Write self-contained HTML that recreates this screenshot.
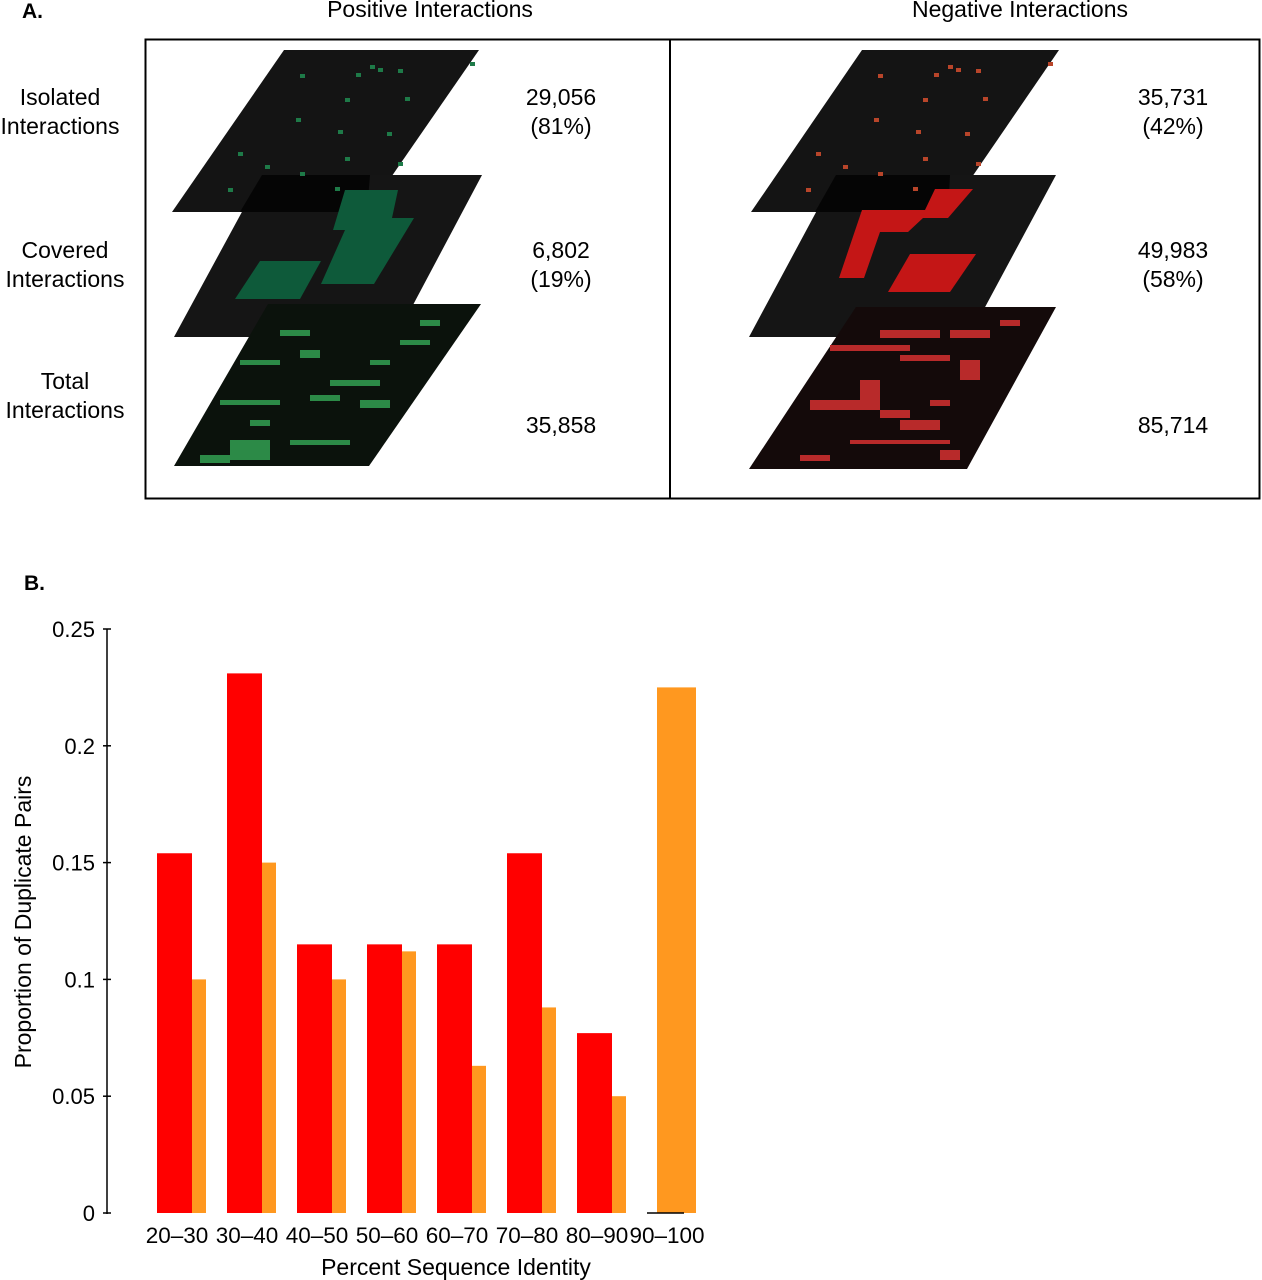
<!DOCTYPE html>
<html><head><meta charset="utf-8"><style>
body{margin:0;background:#fff;font-family:"Liberation Sans",sans-serif;}
svg{display:block}
text{font-family:"Liberation Sans",sans-serif;fill:#000}
</style></head><body>
<svg width="1262" height="1280" viewBox="0 0 1262 1280">
<g>
<text x="22" y="18" font-size="21" font-weight="bold">A.</text>
<text x="430" y="17" font-size="23" text-anchor="middle">Positive Interactions</text>
<text x="1020" y="17" font-size="23" text-anchor="middle">Negative Interactions</text>
<rect x="145.5" y="39.5" width="1114" height="459" fill="none" stroke="#000" stroke-width="2"/>
<line x1="670" y1="39" x2="670" y2="498" stroke="#000" stroke-width="2"/>
<g font-size="23" text-anchor="middle">
<text x="60" y="105">Isolated</text>
<text x="60" y="134">Interactions</text>
<text x="65" y="258">Covered</text>
<text x="65" y="287">Interactions</text>
<text x="65" y="389">Total</text>
<text x="65" y="418">Interactions</text>
<text x="561" y="105">29,056</text>
<text x="561" y="134">(81%)</text>
<text x="561" y="258">6,802</text>
<text x="561" y="287">(19%)</text>
<text x="561" y="433">35,858</text>
<text x="1173" y="105">35,731</text>
<text x="1173" y="134">(42%)</text>
<text x="1173" y="258">49,983</text>
<text x="1173" y="287">(58%)</text>
<text x="1173" y="433">85,714</text>
</g>
<g id="layersPos">
<polygon points="284,50 479,50 367,212 172,212" fill="#141414"/>
<polygon points="262,175 482,175 396,337 174,337" fill="#151515"/>
<polygon points="262,175 370,175 367,212 240,212" fill="#050505"/>
<polygon points="345,190 398,190 392,218 414,218 374,284 321,284 345,230 333,230" fill="#0e5a3a"/>
<polygon points="260,261 321,261 300,299 235,299" fill="#0e5a3a"/>
<polygon points="268,304 481,304 369,466 174,466" fill="#0b120c"/>
</g>
<g id="layersNeg">
<polygon points="862,50 1059,50 948,212 751,212" fill="#141414"/>
<polygon points="836,175 1056,175 969,337 749,337" fill="#151515"/>
<polygon points="836,175 950,175 948,212 815,212" fill="#050505"/>
<polygon points="935,189 973,189 948,218 923,218 908,232 880,232 864,278 839,278 862,210 925,210" fill="#c41616"/>
<polygon points="910,254 976,254 950,292 888,292" fill="#c41616"/>
<polygon points="856,307 1056,307 967,469 749,469" fill="#140a0a"/>
</g>
<g id="specks"></g>
</g>
<g>
<text x="24" y="590" font-size="21" font-weight="bold">B.</text>
<line x1="107" y1="629" x2="107" y2="1214" stroke="#000" stroke-width="1.5"/>
<g id="chart"></g>
<text x="456" y="1275" font-size="23" text-anchor="middle">Percent Sequence Identity</text>
<text transform="translate(31,922) rotate(-90)" font-size="23" text-anchor="middle">Proportion of Duplicate Pairs</text>
</g>
</svg>
<script>
const categories=["20–30","30–40","40–50","50–60","60–70","70–80","80–90","90–100"];
const redValues=[0.154,0.231,0.115,0.115,0.115,0.154,0.077,0];
const orangeValues=[0.100,0.150,0.100,0.112,0.063,0.088,0.050,0.225];
const yTicks=[0,0.05,0.1,0.15,0.2,0.25];
const yTickLabels=["0","0.05","0.1","0.15","0.2","0.25"];
const NS="http://www.w3.org/2000/svg";
const g=document.getElementById('chart');
const y0=1213,yScale=v=>y0-v*(584/0.25);
const xGroup=i=>157+i*70;
function mk(t,a){const e=document.createElementNS(NS,t);for(const k in a)e.setAttribute(k,a[k]);g.appendChild(e);return e;}
yTicks.forEach((t,i)=>{
 const l=mk('line',{x1:103,x2:111,y1:yScale(t),y2:yScale(t),stroke:'#000','stroke-width':1.5});
 
 
 const tx=mk('text',{x:95,y:yScale(t)+8,'font-size':22,'text-anchor':'end'});
 tx.textContent=yTickLabels[i];
 
 
});
categories.forEach((c,i)=>{
 const x=xGroup(i);
 const o=mk('rect',{x:x+10,y:yScale(orangeValues[i]),width:39,height:y0-yScale(orangeValues[i]),fill:'#ff981f'});
 
 
 const h=y0-yScale(redValues[i]);
 const r=mk('rect',{x:x,y:yScale(redValues[i]),width:35,height:h,fill:'#ff0000'});
 
 
 if(redValues[i]===0){const z=mk('line',{x1:x,x2:x+37,y1:y0,y2:y0,stroke:'#000','stroke-width':1.5});
  
  }
 const t=mk('text',{x:x+20,y:1243,'font-size':22.5,'text-anchor':'middle'});
 t.textContent=c;
 
 
});
const sp=document.getElementById('specks');
function sq(x,y,w,h,f){const e=document.createElementNS(NS,'rect');e.setAttribute('x',x);e.setAttribute('y',y);e.setAttribute('width',w);e.setAttribute('height',h);e.setAttribute('fill',f);
 
 
 sp.appendChild(e);}
const iso=[[370,65],[378,68],[356,73],[398,69],[300,74],[345,98],[405,97],[296,118],[338,130],[387,132],[238,152],[345,157],[265,165],[300,172],[228,188],[335,187],[470,62],[398,162]];
iso.forEach(p=>{sq(p[0],p[1],5,4,'#1e7a48');sq(p[0]+578,p[1],5,4,'#b8452a');});
const tot=[[280,330,30,6],[300,350,20,8],[240,360,40,5],[330,380,50,6],[220,400,60,5],[360,400,30,8],[250,420,20,6],[230,440,40,20],[290,440,60,5],[400,340,30,5],[420,320,20,6],[310,395,30,6],[200,455,30,8],[370,360,20,5]];
tot.forEach(p=>sq(p[0],p[1],p[2],p[3],'#2c8a47'));
const totN=[[830,345,80,6],[880,330,60,8],[900,355,50,6],[810,400,70,10],[860,380,20,30],[900,420,40,10],[950,330,40,8],[960,360,20,20],[800,455,30,6],[850,440,100,4],[880,410,30,8],[1000,320,20,6],[930,400,20,6],[940,450,20,10]];
totN.forEach(p=>sq(p[0],p[1],p[2],p[3],'#b82a2a'));
</script>
</body></html>
